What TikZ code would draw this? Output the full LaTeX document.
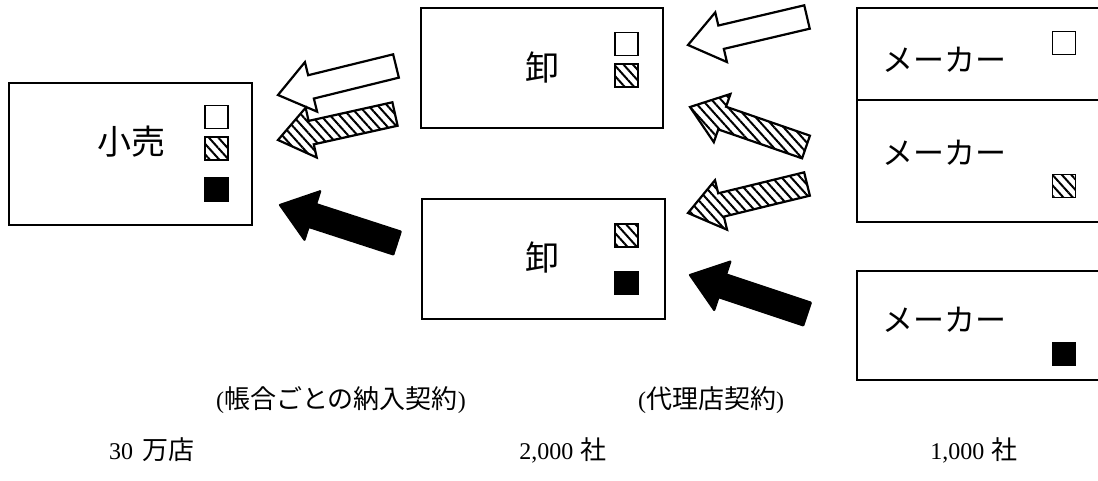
\documentclass[tikz,border=0pt]{standalone}
\usepackage{fontspec}
\setmainfont{Liberation Serif}
\newfontfamily\cjk{Noto Sans CJK JP}
\usetikzlibrary{calc,patterns.meta}
\newcommand\jp[1]{{\cjk\fontsize{26}{30}\selectfont #1}}
\def\hl{34pt}
\def\hw{25.5pt}
\def\sw{12pt}
\newcommand\blockarr[3]{%
  \draw[#1] (#2) -- ($(#2)!\hl!(#3)!\hw!90:(#3)$) -- ($(#2)!\hl!(#3)!\sw!90:(#3)$)
    -- ($(#3)!\sw!-90:(#2)$) -- ($(#3)!\sw!90:(#2)$)
    -- ($(#2)!\hl!(#3)!\sw!-90:(#3)$) -- ($(#2)!\hl!(#3)!\hw!-90:(#3)$) -- cycle;}
\tikzset{
  box/.style={draw, line width=1.5pt, inner sep=0pt},
  big/.style={inner sep=0pt, font=\cjk\fontsize{34}{38}\selectfont},
  mk/.style={inner sep=0pt, font=\cjk\fontsize{31}{34}\selectfont},
  lab/.style={inner sep=0pt, font=\fontsize{24}{28}\selectfont},
  sq/.style={draw, line width=1.5pt, minimum size=23pt, inner sep=0pt},
  hatch/.style={pattern={Lines[angle=-48,distance=7pt,line width=2pt]}},
  sqw/.style={sq, fill=white},
  sqh/.style={sq, hatch},
  sqb/.style={sq, fill=black},
  arrw/.style={draw, line width=2.2pt, line join=miter, fill=white},
  arrh/.style={draw, line width=2.2pt, line join=miter, hatch},
  arrb/.style={draw, line width=2.2pt, line join=round, fill=black},
}
\begin{document}
\begin{tikzpicture}[x=1pt,y=-1pt]
\useasboundingbox (0,0) rectangle (1098,481);
\clip (0,0) rectangle (1098,481);
% boxes
\node[box, minimum width=243pt, minimum height=142pt] (ret) at (130.5,154) {};
\node[box, minimum width=242pt, minimum height=120pt] (w1) at (542,68) {};
\node[box, minimum width=243pt, minimum height=120pt] (w2) at (543.5,259) {};
\node[box, minimum width=253pt, minimum height=92pt] (m1) at (983.5,54) {};
\node[box, minimum width=253pt, minimum height=122pt] (m2) at (983.5,161) {};
\node[box, minimum width=253pt, minimum height=109pt] (m3) at (983.5,325.5) {};
% texts
\node[big] (tret) at (131,142) {小売};
\node[big] (tw1) at (542,67) {卸};
\node[big] (tw2) at (542,257) {卸};
\node[mk] (tm1) at (944,60) {メーカー};
\node[mk] (tm2) at (944,153) {メーカー};
\node[mk] (tm3) at (944,320) {メーカー};
% squares
\node[sqw] (r1) at (216.5,117) {};
\node[sqh] (r2) at (216.5,148.5) {};
\node[sqb] (r3) at (216.5,189.5) {};
\node[sqw] (a1) at (626.5,44) {};
\node[sqh] (a2) at (626.5,75.5) {};
\node[sqh] (b1) at (626.5,235.5) {};
\node[sqb] (b2) at (626.5,283) {};
\node[sqw] (c1) at (1064,43) {};
\node[sqh] (c2) at (1064,186) {};
\node[sqb] (c3) at (1064,354) {};
% arrow ends
\coordinate (Atip) at (278,95);  \coordinate (Atail) at (396,66);
\coordinate (Btip) at (278,140); \coordinate (Btail) at (395,114);
\coordinate (Ctip) at (280,205); \coordinate (Ctail) at (397,243);
\coordinate (Dtip) at (688,45);  \coordinate (Dtail) at (807,17);
\coordinate (Etip) at (690,107); \coordinate (Etail) at (806,147);
\coordinate (Ftip) at (688,213); \coordinate (Ftail) at (807,184);
\coordinate (Gtip) at (690,275); \coordinate (Gtail) at (807,314);
\blockarr{arrw}{Atip}{Atail}
\blockarr{arrh}{Btip}{Btail}
\blockarr{arrb}{Ctip}{Ctail}
\blockarr{arrw}{Dtip}{Dtail}
\blockarr{arrh}{Etip}{Etail}
\blockarr{arrh}{Ftip}{Ftail}
\blockarr{arrb}{Gtip}{Gtail}
% bottom labels
\node[lab] (l1) at (341,400) {(\jp{帳合ごとの納入契約})};
\node[lab] (l2) at (711,400) {(\jp{代理店契約})};
\node[lab] (n1) at (152,450) {30\hspace{0.4em}\jp{万店}};
\node[lab] (n2) at (563,450) {2,000\hspace{0.3em}\jp{社}};
\node[lab] (n3) at (974,450) {1,000\hspace{0.3em}\jp{社}};
\end{tikzpicture}
\end{document}
